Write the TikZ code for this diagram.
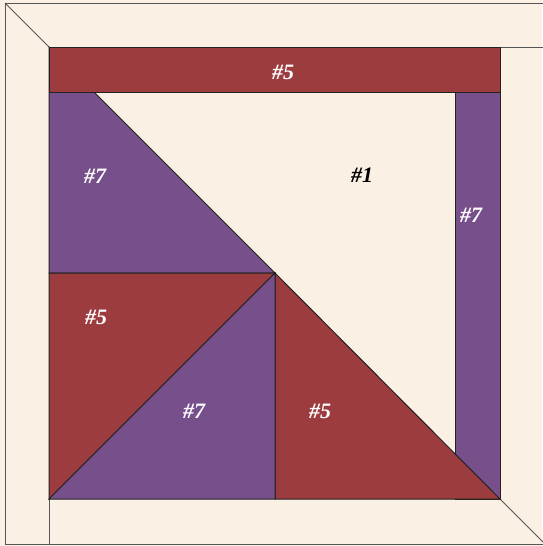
\documentclass[tikz,border=0pt]{standalone}
\usepackage{fontspec}
\setmainfont{Liberation Serif}
\definecolor{cream}{HTML}{FAF0E3}
\definecolor{wine}{HTML}{9C3C3F}
\definecolor{plum}{HTML}{77508B}
\definecolor{edge}{HTML}{222222}
\definecolor{rim}{HTML}{555555}
\begin{document}
\begin{tikzpicture}[x=1pt,y=-1pt,
  patch/.style={draw=edge,line width=1pt,line join=miter},
  rimline/.style={draw=rim,line width=0.9pt},
  lbl/.style={font=\fontsize{22}{22}\selectfont\bfseries\itshape,text=white,inner sep=0pt},
  lblk/.style={lbl,text=black}]
\useasboundingbox (0,0) rectangle (542,546);
\fill[cream] (0,0) rectangle (542,546);
% outer border
\draw[rimline] (5,544) -- (5,3) -- (545,3);
\draw[rimline] (5,544) -- (545,544);
\draw[rimline] (5,3) -- (49,47);
\draw[rimline] (500,47) -- (545,47);
\draw[rimline] (49,499) -- (49,544);
\draw[rimline] (500,499) -- (545,544);
% left #7 triangle
\path[patch,fill=plum] (49,47) -- (49,273) -- (275,273) -- cycle;
% top #5 strip
\path[patch,fill=wine] (49,47) rectangle (500,92);
% right #7 strip
\path[patch,fill=plum] (455,92) rectangle (500,499);
% right #5 triangle
\path[patch,fill=wine] (275,273) -- (275,499) -- (500,499) -- cycle;
% left #5 triangle
\path[patch,fill=wine] (49,273) -- (275,273) -- (49,499) -- cycle;
% bottom #7 triangle
\path[patch,fill=plum] (275,273) -- (275,499) -- (49,499) -- cycle;
% labels
\node[lbl] (l7a) at (95,176) {\#7};
\node[lbl] (l5a) at (283,72) {\#5};
\node[lblk] (l1) at (362,175) {\#1};
\node[lbl] (l7b) at (471,215) {\#7};
\node[lbl] (l5b) at (96,317) {\#5};
\node[lbl] (l7c) at (194,411) {\#7};
\node[lbl] (l5c) at (320,411) {\#5};
\end{tikzpicture}
\end{document}
